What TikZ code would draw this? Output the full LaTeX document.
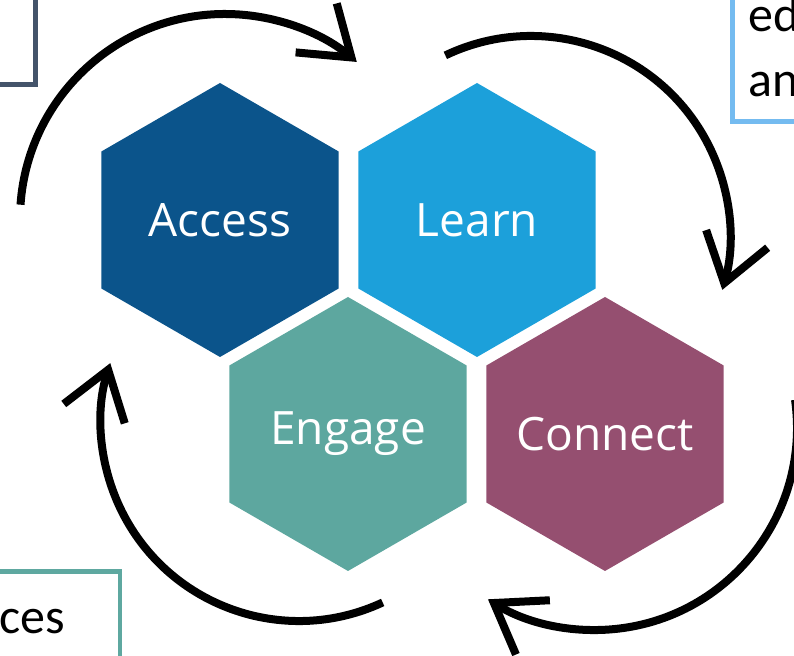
\documentclass[tikz,border=0pt]{standalone}
\usepackage{fontspec}
\usepackage{tikz}
\usetikzlibrary{shapes.geometric,arrows.meta}
\newfontfamily\hexfont{Open Sans}
\newfontfamily\notefont{Carlito}
\definecolor{accessblue}{RGB}{11,84,139}
\definecolor{learnblue}{RGB}{28,160,218}
\definecolor{engageteal}{RGB}{93,167,159}
\definecolor{connectplum}{RGB}{149,79,112}
\definecolor{noteslate}{RGB}{68,84,106}
\definecolor{noteblue}{RGB}{116,187,240}
\definecolor{noteteal}{RGB}{94,168,160}

\begin{document}
\begin{tikzpicture}[x=1pt,y=1pt,
  hexa/.style={regular polygon,regular polygon sides=6,shape border rotate=30,
    minimum size=274pt,inner sep=0pt},
  hexlabel/.style={text=white,inner sep=0pt,font=\hexfont\fontsize{46}{55}\selectfont},
  loop arrow/.style={black,line width=8pt,-{Straight Barb[length=46pt,width=64pt]}},
  notebox/.style={line width=4.5pt,anchor=south west,inner sep=0pt},
  notetext/.style={font=\notefont\fontsize{50}{60}\selectfont,inner sep=0pt,anchor=base west}]
\useasboundingbox (0,0) rectangle (794,655);
\clip (0,0) rectangle (794,655);
\node[hexa,fill=accessblue,label={[hexlabel]center:Access}] (access) at (220,435) {};
\node[hexa,fill=learnblue,label={[hexlabel]center:Learn}] (learn) at (477,435) {};
\node[hexa,fill=engageteal,label={[hexlabel]center:Engage}] (engage) at (348,221) {};
\node[hexa,fill=connectplum,label={[hexlabel]center:Connect}] (connect) at (605,221) {};
\coordinate (topC) at (225,436);
\coordinate (rightC) at (531,420);
\coordinate (lowRC) at (595,227);
\coordinate (lowLC) at (299,232);
\draw[loop arrow] ([shift={(176:205)}]topC) arc[start angle=176,end angle=50,radius=205];
\draw[loop arrow] ([shift={(115.5:199)}]rightC) arc[start angle=115.5,end angle=-16,radius=199];
\draw[loop arrow] ([shift={(8:202)}]lowRC) arc[start angle=8,end angle=-122,radius=202];
\draw[loop arrow] ([shift={(-65:198)}]lowLC) arc[start angle=-65,end angle=-197.6,radius=198];
\node[notebox,draw=noteslate,minimum width=60pt,minimum height=110pt] (boxL) at (-27,568) {};
\node[notebox,draw=noteblue,minimum width=100pt,minimum height=150pt] (boxR) at (730,531) {};
\node[notebox,draw=noteteal,minimum width=150pt,minimum height=120pt] (boxE) at (-32.5,-39) {};
\node[notetext] (noteR1) at (748,623) {ed};
\node[notetext] (noteR2) at (748,558) {an};
\node[notetext] (noteE) at (-1,21) {ces};
\end{tikzpicture}
\end{document}
